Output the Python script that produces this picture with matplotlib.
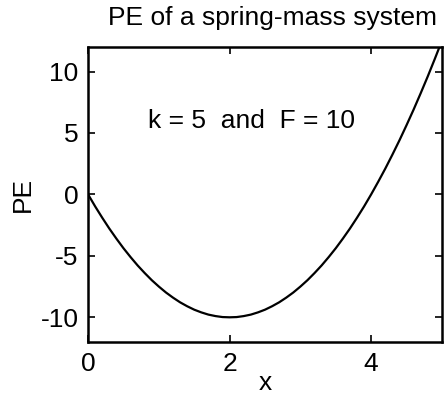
import matplotlib
matplotlib.use("Agg")
import matplotlib.pyplot as plt

plt.rcParams['font.family'] = ['Liberation Sans', 'DejaVu Sans']
plt.rcParams['axes.unicode_minus'] = False

# spring constant and applied force shown in the annotation
k = 5
F = 10

# sampled displacement and potential energy
x = [0.0, 0.1, 0.2, 0.3, 0.4, 0.5, 0.6, 0.7, 0.8, 0.9,
     1.0, 1.1, 1.2, 1.3, 1.4, 1.5, 1.6, 1.7, 1.8, 1.9,
     2.0, 2.1, 2.2, 2.3, 2.4, 2.5, 2.6, 2.7, 2.8, 2.9,
     3.0, 3.1, 3.2, 3.3, 3.4, 3.5, 3.6, 3.7, 3.8, 3.9,
     4.0, 4.1, 4.2, 4.3, 4.4, 4.5, 4.6, 4.7, 4.8, 4.9, 5.0]
pe = [0.0, -0.98, -1.9, -2.78, -3.6, -4.38, -5.1, -5.78, -6.4, -6.98,
      -7.5, -7.98, -8.4, -8.78, -9.1, -9.38, -9.6, -9.78, -9.9, -9.98,
      -10.0, -9.98, -9.9, -9.78, -9.6, -9.38, -9.1, -8.78, -8.4, -7.98,
      -7.5, -6.98, -6.4, -5.78, -5.1, -4.38, -3.6, -2.78, -1.9, -0.98,
      0.0, 1.03, 2.1, 3.23, 4.4, 5.63, 6.9, 8.23, 9.6, 11.03, 12.5]

xticks = [0, 2, 4]
yticks = [-10, -5, 0, 5, 10]

fig = plt.figure(figsize=(4.45, 3.98), dpi=100)
ax = fig.add_axes([0.198, 0.141, 0.795, 0.741])

ax.plot(x, pe, color='black', linewidth=1.6)
ax.set_xlim(0, 5)
ax.set_ylim(-12, 12)
ax.set_xticks(xticks)
ax.set_yticks(yticks)
ax.tick_params(direction='in', top=True, right=True, length=5, width=1.2,
               labelsize=19, pad=7)
for sp in ax.spines.values():
    sp.set_linewidth(1.8)

ax.text(0.85, 6, f'k = {k}  and  F = {F}', fontsize=19, va='center', ha='left')
ax.set_title('PE of a spring-mass system', fontsize=19, pad=16, x=0.52)
ax.set_xlabel('x', fontsize=19, labelpad=-3)
ax.set_ylabel('PE', fontsize=19, labelpad=4)

fig.savefig('out.png', dpi=100)
